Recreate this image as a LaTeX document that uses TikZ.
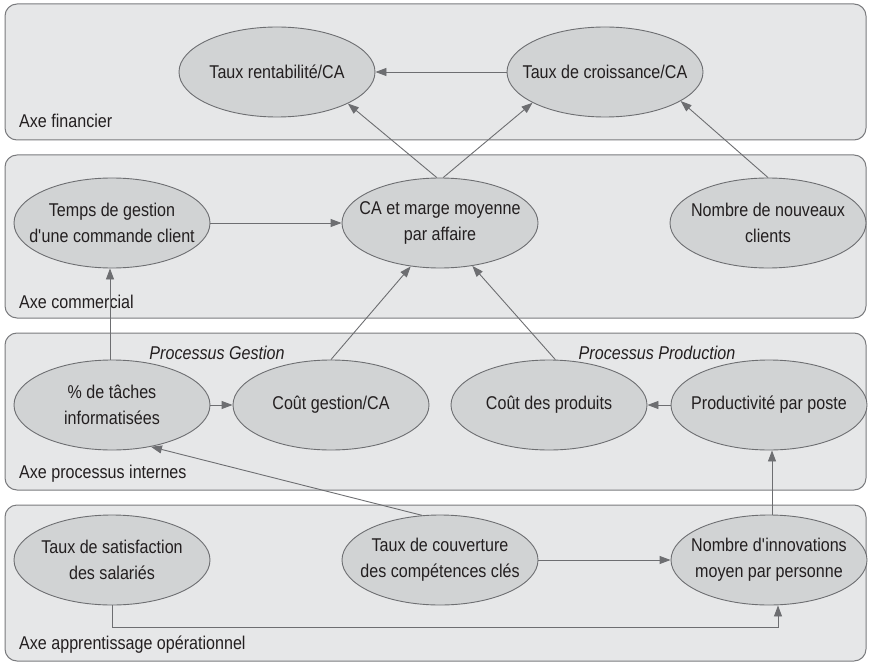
\documentclass[tikz,border=0pt]{standalone}
\usepackage{fontspec}
\setmainfont{Liberation Sans}[FakeStretch=0.87]
\usetikzlibrary{shapes.geometric,arrows.meta}

\definecolor{bandfill}{HTML}{E6E7E8}
\definecolor{bandline}{HTML}{7A7B7E}
\definecolor{ovalfill}{HTML}{D1D3D4}
\definecolor{ovalline}{HTML}{6D6E71}
\definecolor{linkline}{HTML}{6D6E71}
\definecolor{ink}{HTML}{231F20}

\tikzset{
  band/.style={draw=bandline, fill=bandfill, line width=1pt, rounded corners=12pt},
  oval/.style={ellipse, draw=ovalline, fill=ovalfill, line width=0.9pt,
    minimum width=196pt, minimum height=90pt, inner xsep=-25pt, inner ysep=0pt,
    align=center, text=ink, font=\fontsize{18.5}{26}\selectfont},
  axislabel/.style={anchor=west, text=ink, inner sep=0pt, font=\fontsize{18.5}{22}\selectfont},
  grouplabel/.style={text=ink, inner sep=0pt, font=\fontsize{18.5}{22}\selectfont\itshape},
  link/.style={draw=linkline, line width=0.9pt, -{Triangle[length=11pt,width=8pt]}},
}

\begin{document}
\begin{tikzpicture}[x=1pt, y=-1pt]
\useasboundingbox (0,0) rectangle (869,663);

% four horizontal bands
\draw[band] (5,4) rectangle (866,140);
\draw[band] (5,155) rectangle (866,318);
\draw[band] (5,333) rectangle (866,490);
\draw[band] (5,505) rectangle (866,661);

% band titles
\node[axislabel] (lfin) at (19,121) {Axe financier};
\node[axislabel] (lcom) at (19,302) {Axe commercial};
\node[axislabel] (lpro) at (19,474) {Axe processus internes};
\node[axislabel] (lapp) at (19,645) {Axe apprentissage opérationnel};

\node[grouplabel] (ggest) at (217,353) {Processus Gestion};
\node[grouplabel] (gprod) at (657,353) {Processus Production};

% indicators
\node[oval] (rent) at (277,72) {Taux rentabilité/CA};
\node[oval] (croi) at (605,72) {Taux de croissance/CA};

\node[oval] (temps) at (112,223) {Temps de gestion\\d\textquotesingle une commande client};
\node[oval] (ca) at (440,223) {CA et marge moyenne\\par affaire};
\node[oval] (nouv) at (768,223) {Nombre de nouveaux\\clients};

\node[oval] (pct) at (112,405) {\% de tâches\\informatisées};
\node[oval] (cgest) at (331,405) {Coût gestion/CA};
\node[oval] (cprod) at (549,405) {Coût des produits};
\node[oval] (prod) at (769,405) {Productivité par poste};

\node[oval] (sat) at (112,560) {Taux de satisfaction\\des salariés};
\node[oval] (couv) at (440,560) {Taux de couverture\\des compétences clés};
\node[oval] (innov) at (769,560) {Nombre d\textquotesingle innovations\\moyen par personne};

% cause-effect links
\draw[link] (croi.west) -- (rent.east);
\draw[link] (ca.94) -- (rent.-24);
\draw[link] (ca.86) -- (croi.-157);
\draw[link] (nouv.north) -- (croi.-21);

\draw[link] (temps.east) -- (ca.west);
\draw[link] ([xshift=-2pt]pct.north) -- ([xshift=-2pt]temps.south);
\draw[link] (cgest.north) -- (ca.-124);
\draw[link] (cprod.82) -- (ca.-53);

\draw[link] (pct.east) -- (cgest.west);
\draw[link] (prod.west) -- (cprod.east);

\draw[link] (couv.112) -- (pct.-47);
\draw[link] (couv.east) -- (innov.west);
\coordinate (turn) at (778,627);
\draw[link] (sat.south) |- (turn) -- (turn |- innov.south);
\draw[link] ([xshift=3pt]innov.north) -- ([xshift=3pt]prod.south);
\end{tikzpicture}
\end{document}
